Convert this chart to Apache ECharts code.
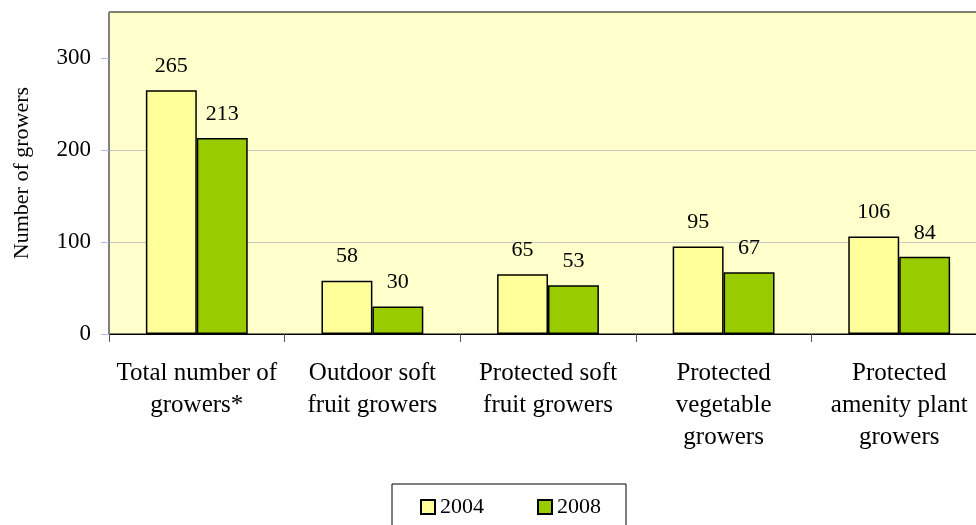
<!DOCTYPE html>
<html>
<head>
<meta charset="utf-8">
<script src="https://cdn.jsdelivr.net/npm/echarts@6/dist/echarts.min.js"></script>
<style>
  html, body { margin: 0; padding: 0; background: #fff; }
  #chart { width: 976px; height: 525px; }
</style>
</head>
<body>
<div id="chart"></div>
<script>
var categories = [
  'Total number of\ngrowers*',
  'Outdoor soft\nfruit growers',
  'Protected soft\nfruit growers',
  'Protected\nvegetable\ngrowers',
  'Protected\namenity plant\ngrowers'
];
var values2004 = [265, 58, 65, 95, 106];
var values2008 = [213, 30, 53, 67, 84];
var yTicks = [0, 100, 200, 300];

var font = "'Liberation Serif', 'Times New Roman', serif";
var myChart = echarts.init(document.getElementById('chart'));

function barSeries(name, data, color) {
  return {
    name: name,
    type: 'bar',
    data: data,
    barGap: '0%',
    barCategoryGap: '42%',
    itemStyle: { color: color, borderColor: '#000', borderWidth: 1.5 },
    label: {
      show: true,
      position: 'top',
      distance: 13,
      color: '#000',
      fontFamily: font,
      fontSize: 22
    }
  };
}

var option = {
  animation: false,
  backgroundColor: '#fff',
  grid: {
    left: 109,
    top: 12,
    right: -11,
    bottom: 191,
    outerBoundsMode: 'none',
    containLabel: false,
    show: true,
    backgroundColor: '#FFFFCC',
    borderColor: '#000',
    borderWidth: 1
  },
  legend: {
    left: 392,
    top: 484,
    padding: [12, 25, 14, 28],
    itemWidth: 14,
    itemHeight: 14,
    itemGap: 53,
    icon: 'rect',
    borderColor: '#000',
    borderWidth: 1,
    textStyle: { fontFamily: font, fontSize: 22, color: '#000' },
    data: ['2004', '2008']
  },
  xAxis: {
    type: 'category',
    data: categories,
    axisLine: { lineStyle: { color: '#000', width: 1 } },
    axisTick: { show: true, length: 8, lineStyle: { color: '#555' } },
    axisLabel: {
      margin: 23,
      interval: 0,
      color: '#000',
      fontFamily: font,
      fontSize: 25,
      lineHeight: 32
    }
  },
  yAxis: {
    type: 'value',
    min: 0,
    max: 350,
    interval: 100,
    name: 'Number of growers',
    nameLocation: 'middle',
    nameGap: 76,
    nameTextStyle: { fontFamily: font, fontSize: 22, color: '#000' },
    axisLine: { show: true, lineStyle: { color: '#808080', width: 1 } },
    axisTick: { show: true, length: 8, customValues: yTicks, lineStyle: { color: '#b8b8e8' } },
    axisLabel: {
      margin: 18,
      color: '#000',
      fontFamily: font,
      fontSize: 23,
      customValues: yTicks
    },
    splitLine: {
      show: true,
      showMaxLine: false,
      lineStyle: { color: '#c8c8c8', width: 1 }
    }
  },
  series: [
    barSeries('2004', values2004, '#FFFF99'),
    barSeries('2008', values2008, '#99CC00')
  ]
};
myChart.setOption(option);
</script>
</body>
</html>
